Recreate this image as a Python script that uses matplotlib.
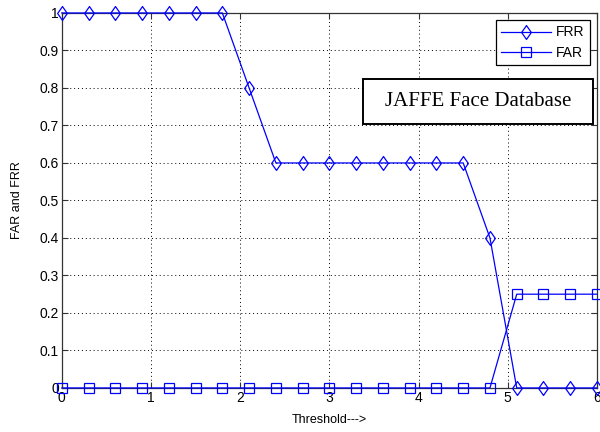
import matplotlib
matplotlib.use("Agg")
import matplotlib.pyplot as plt
from matplotlib.patches import Rectangle

threshold = [0, 0.3, 0.6, 0.9, 1.2, 1.5, 1.8, 2.1, 2.4, 2.7, 3.0, 3.3, 3.6, 3.9,
             4.2, 4.5, 4.8, 5.1, 5.4, 5.7, 6.0]
frr = [1, 1, 1, 1, 1, 1, 1, 0.8, 0.6, 0.6, 0.6, 0.6, 0.6, 0.6,
       0.6, 0.6, 0.4, 0, 0, 0, 0]
far = [0, 0, 0, 0, 0, 0, 0, 0, 0, 0, 0, 0, 0, 0,
       0, 0, 0, 0.25, 0.25, 0.25, 0.25]
xticks = [0, 1, 2, 3, 4, 5, 6]
yticks = [0, 0.1, 0.2, 0.3, 0.4, 0.5, 0.6, 0.7, 0.8, 0.9, 1]
ytick_labels = ['0', '0.1', '0.2', '0.3', '0.4', '0.5', '0.6', '0.7', '0.8', '0.9', '1']

plt.rcParams['font.family'] = ['Liberation Sans', 'DejaVu Sans']

fig = plt.figure(figsize=(6, 4.32), dpi=100)
ax = fig.add_axes([0.103, 0.102, 0.892, 0.868])

blue = '#0000ff'
diamond = [(0, -1), (0.7, 0), (0, 1), (-0.7, 0), (0, -1)]
ax.plot(threshold, frr, color=blue, lw=0.9, marker=diamond, ms=10, mfc='none',
        mec=blue, mew=0.9, label='FRR', clip_on=False, zorder=3)
ax.plot(threshold, far, color=blue, lw=0.9, marker='s', ms=7, mfc='none',
        mec=blue, mew=0.9, label='FAR', clip_on=False, zorder=3)

ax.set_xlim(0, 6)
ax.set_ylim(0, 1)
ax.set_xticks(xticks)
ax.set_yticks(yticks)
ax.set_yticklabels(ytick_labels)
ax.tick_params(direction='in', length=4, labelsize=10, top=True, right=True,
               color='#333333', pad=2)
ax.grid(True, linestyle=(0, (1, 3)), color='black', lw=0.7)
for s in ax.spines.values():
    s.set_color('#333333')
    s.set_linewidth(0.9)

ax.set_xlabel('Threshold--->', fontsize=9, labelpad=7)
ax.set_ylabel('FAR and FRR', fontsize=9, labelpad=12)

leg = ax.legend(loc='upper right', fontsize=10, frameon=True, fancybox=False,
                edgecolor='black', framealpha=1, borderpad=0.4,
                handlelength=3.6, handletextpad=0.35, labelspacing=0.45,
                borderaxespad=0.5)
leg.get_frame().set_linewidth(0.9)

ax.add_patch(Rectangle((0.5626, 0.704), 0.43, 0.12, transform=ax.transAxes,
                       fc='white', ec='black', lw=1.4, zorder=5, clip_on=False))
ax.text(0.7776, 0.764, 'JAFFE Face Database', transform=ax.transAxes,
        ha='center', va='center', fontsize=15, family='Liberation Serif',
        zorder=6)

fig.savefig('out.png', dpi=100)
